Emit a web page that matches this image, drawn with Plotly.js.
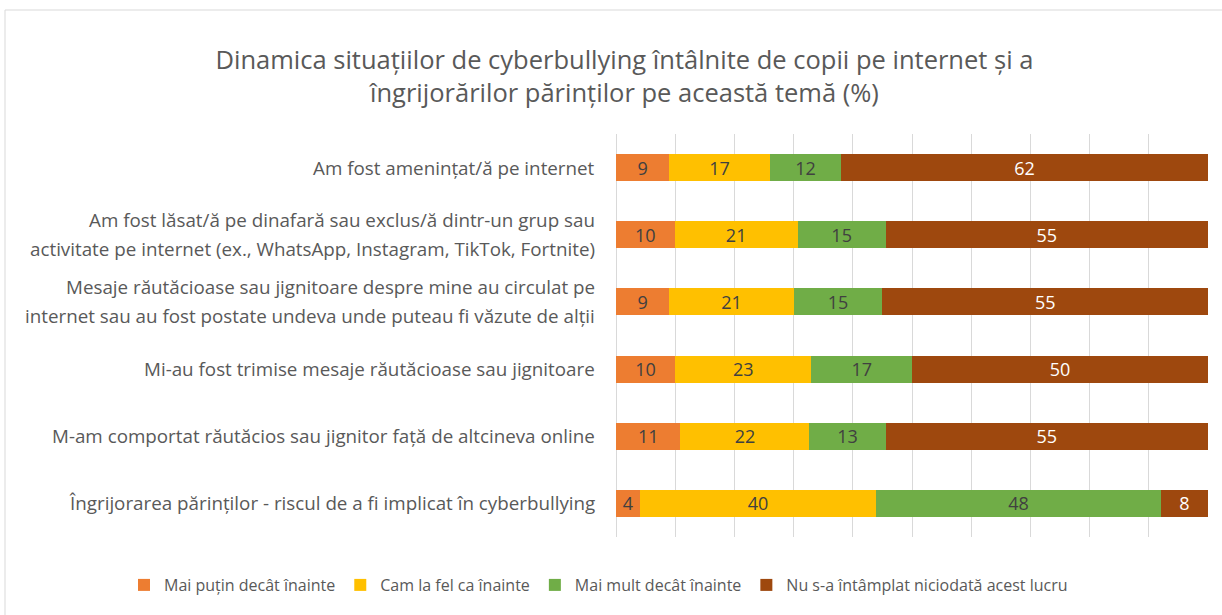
<!DOCTYPE html>
<html>
<head>
<meta charset="utf-8">
<script src="https://cdn.plot.ly/plotly-3.0.1.min.js"></script>
<style>html,body{margin:0;padding:0;background:#fff;}#chart{width:1222px;height:615px;}</style>
</head>
<body>
<div id="chart"></div>
<script>
const categoryLines = [
  ["Am fost amenințat/ă pe internet"],
  ["Am fost lăsat/ă pe dinafară sau exclus/ă dintr-un grup sau", "activitate pe internet (ex., WhatsApp, Instagram, TikTok, Fortnite)"],
  ["Mesaje răutăcioase sau jignitoare despre mine au circulat pe", "internet sau au fost postate undeva unde puteau fi văzute de alții"],
  ["Mi-au fost trimise mesaje răutăcioase sau jignitoare"],
  ["M-am comportat răutăcios sau jignitor față de altcineva online"],
  ["Îngrijorarea părinților - riscul de a fi implicat în cyberbullying"]
];
const categories = categoryLines.map(l => l.join(" "));
const seriesNames = ["Mai puțin decât înainte", "Cam la fel ca înainte", "Mai mult decât înainte", "Nu s-a întâmplat niciodată acest lucru"];
const lessVals  = [9, 10, 9, 10, 11, 4];
const sameVals  = [17, 21, 21, 23, 22, 40];
const moreVals  = [12, 15, 15, 17, 13, 48];
const neverVals = [62, 55, 55, 50, 55, 8];
const titleText = "Dinamica situațiilor de cyberbullying întâlnite de copii pe internet și a<br>îngrijorărilor părinților pe această temă (%)";

const colors = ["#ED7D31", "#FFC000", "#70AD47", "#9E480E"];
const textColors = ["#404040", "#404040", "#404040", "#FFFFFF"];
const allVals = [lessVals, sameVals, moreVals, neverVals];
const FONT = "Open Sans, sans-serif";

const traces = allVals.map((vals, k) => ({
  type: "bar",
  orientation: "h",
  name: seriesNames[k],
  y: categories,
  x: vals,
  text: vals.map(String),
  texttemplate: "%{text}",
  textposition: "inside",
  insidetextanchor: "middle",
  textangle: 0,
  constraintext: "none",
  textfont: {family: FONT, size: 18, color: textColors[k]},
  marker: {color: colors[k], line: {width: 0}},
  hoverinfo: "name+x"
}));

const annotations = [];
categoryLines.forEach((lines, i) => {
  const n = lines.length;
  lines.forEach((line, j) => {
    annotations.push({
      xref: "paper", yref: "y",
      x: -0.032, y: i,
      xanchor: "right", yanchor: "middle",
      yshift: ((n - 1) / 2 - j) * 29,
      text: line, showarrow: false,
      font: {family: FONT, size: 18.8, color: "#595959"}
    });
  });
});

const layout = {
  width: 1222, height: 615,
  margin: {l: 616, r: 14, t: 134, b: 78},
  paper_bgcolor: "#ffffff", plot_bgcolor: "#ffffff",
  barmode: "stack",
  barnorm: "percent",
  bargap: 0.6,
  showlegend: true,
  title: {
    text: titleText,
    font: {family: FONT, size: 25.5, color: "#595959"},
    xref: "container", yref: "container",
    x: 0.511, y: 0.888, xanchor: "center", yanchor: "middle"
  },
  xaxis: {
    range: [0, 100], dtick: 10, showgrid: true, gridcolor: "#D9D9D9", gridwidth: 1,
    zeroline: true, zerolinecolor: "#D9D9D9", zerolinewidth: 1,
    showticklabels: false, ticks: "", showline: false, fixedrange: true
  },
  yaxis: {
    type: "category", autorange: "reversed", showticklabels: false, ticks: "",
    showgrid: false, zeroline: false, showline: false, fixedrange: true
  },
  legend: {
    orientation: "h", xref: "paper", yref: "paper",
    x: (124 - 616) / 592, y: (537 - 585) / 403, xanchor: "left", yanchor: "middle",
    font: {family: FONT, size: 16, color: "#595959"},
    traceorder: "normal", itemwidth: 30
  },
  annotations: annotations,
  shapes: [{
    type: "rect", xref: "paper", yref: "paper",
    x0: (5 - 616) / 592, x1: (1240 - 616) / 592,
    y0: (537 - 640) / 403, y1: (537 - 10) / 403,
    line: {color: "#D9D9D9", width: 1}, fillcolor: "rgba(0,0,0,0)", layer: "below"
  }]
};

Plotly.newPlot("chart", traces, layout, {displayModeBar: false, staticPlot: true});
</script>
</body>
</html>
